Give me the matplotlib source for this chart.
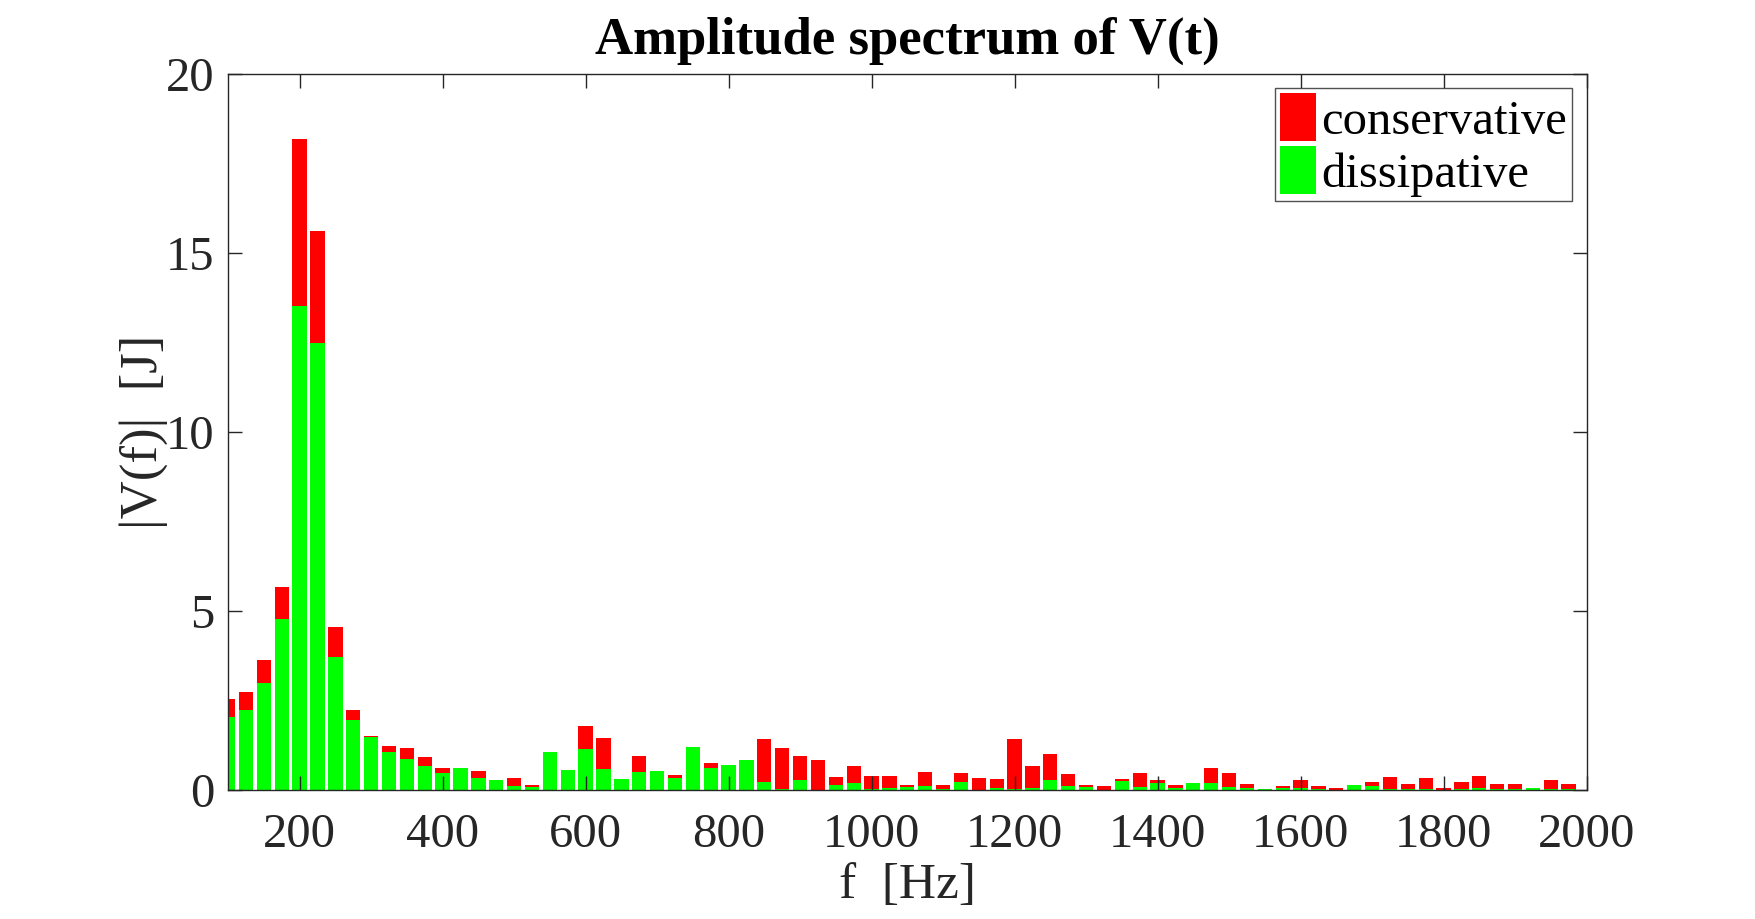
import numpy as np
import matplotlib.pyplot as plt

# frequencies of the bars [Hz]
freq = np.arange(100, 2001, 25)

# total height of each bar (top of red part)
total = [2.54, 2.75, 3.65, 5.67, 18.17, 15.6, 4.55, 2.23, 1.53, 1.23,
         1.18, 0.92, 0.61, 0.61, 0.53, 0.28, 0.34, 0.15, 1.08, 0.58,
         1.80, 1.47, 0.31, 0.95, 0.55, 0.43, 1.22, 0.76, 0.71, 0.85,
         1.42, 1.19, 0.95, 0.85, 0.36, 0.69, 0.41, 0.41, 0.15, 0.51,
         0.14, 0.47, 0.34, 0.32, 1.42, 0.67, 1.00, 0.46, 0.15, 0.13,
         0.33, 0.47, 0.30, 0.14, 0.20, 0.62, 0.49, 0.19, 0.05, 0.11,
         0.30, 0.11, 0.07, 0.16, 0.22, 0.38, 0.19, 0.34, 0.07, 0.23,
         0.40, 0.19, 0.17, 0.07, 0.29, 0.17, 0.02]

# dissipative part (green)
dissipative = [2.06, 2.25, 2.99, 4.78, 13.5, 12.49, 3.73, 1.96, 1.49, 1.08,
               0.87, 0.67, 0.49, 0.61, 0.34, 0.28, 0.11, 0.08, 1.08, 0.58,
               1.14, 0.60, 0.31, 0.50, 0.55, 0.34, 1.22, 0.61, 0.71, 0.85,
               0.22, 0.03, 0.28, 0.01, 0.15, 0.20, 0.05, 0.06, 0.10, 0.13,
               0.05, 0.24, 0.02, 0.06, 0.05, 0.06, 0.29, 0.13, 0.09, 0.02,
               0.25, 0.08, 0.20, 0.07, 0.20, 0.21, 0.08, 0.07, 0.05, 0.06,
               0.07, 0.05, 0.01, 0.16, 0.13, 0.03, 0.05, 0.03, 0.01, 0.03,
               0.06, 0.04, 0.03, 0.07, 0.03, 0.04, 0.02]

conservative = np.array(total) - np.array(dissipative)

plt.rcParams['font.family'] = ['Liberation Serif', 'DejaVu Serif']

fig = plt.figure(figsize=(17.55, 9.19), dpi=100)
ax = fig.add_axes([0.130, 0.140, 0.774, 0.780])

b_dis = ax.bar(freq, dissipative, width=20, color=(0, 1, 0), linewidth=0)
b_con = ax.bar(freq, conservative, width=20, bottom=dissipative,
               color=(1, 0, 0), linewidth=0)

ax.set_xlim(100, 2000)
ax.set_ylim(0, 20)
ax.set_xticks(np.arange(200, 2001, 200))
ax.set_yticks([0, 5, 10, 15, 20])

grey = (0.15, 0.15, 0.15)
ax.tick_params(direction='in', top=True, right=True, length=10,
               width=1, labelsize=35, colors=grey)
ax.tick_params(axis='x', pad=16)
ax.tick_params(axis='y', pad=10)
for sp in ax.spines.values():
    sp.set_color(grey)
    sp.set_linewidth(1)

ax.set_xlabel('f  [Hz]', fontsize=37, color=grey, labelpad=4)
ax.set_ylabel('|V(f)|  [J]', fontsize=38, color=grey, labelpad=-2)
ax.set_title('Amplitude spectrum of V(t)', fontsize=38, fontweight='bold',
             pad=14)

leg = ax.legend([b_con, b_dis], ['conservative', 'dissipative'],
                loc='upper right', fontsize=35, frameon=True, fancybox=False,
                edgecolor=grey, handlelength=0.75,
                handleheight=1.15, handletextpad=0.1, borderpad=0.1,
                labelspacing=0.05, borderaxespad=0.3)
leg.get_frame().set_linewidth(1)

fig.savefig('out.png', dpi=100)
